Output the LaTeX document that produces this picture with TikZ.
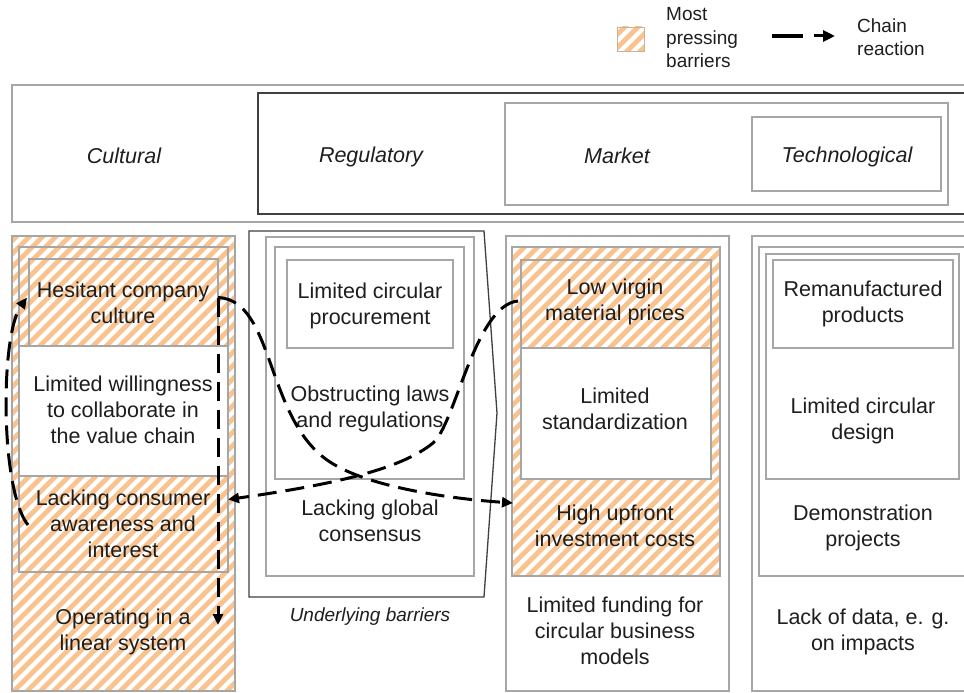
\documentclass[tikz,border=0pt]{standalone}
\usepackage{fontspec}
\setmainfont{Liberation Sans}
\usetikzlibrary{arrows.meta,calc}
\definecolor{hatch}{HTML}{F8C38E}
\definecolor{lgray}{HTML}{A6A6A6}
\definecolor{dgray}{HTML}{404040}
\definecolor{txtc}{HTML}{1E1E1E}
\newcommand\myhatch[4]{%
  \begin{scope}
    \clip (#1,#2) rectangle (#3,#4);
    \pgfmathtruncatemacro\hkA{(#1+#2)/13.3-1}
    \pgfmathtruncatemacro\hkB{(#3+#4)/13.3+1}
    \foreach \k in {\hkA,...,\hkB}{
      \draw[draw=hatch,line width=4.8pt] ({\k*13.3-#4-20},{#4+20}) -- ({\k*13.3-#2+20},{#2-20});
    }
  \end{scope}}
\begin{document}
\begin{tikzpicture}[x=1pt,y=-1pt,
  bx/.style={draw=lgray,line width=1.3pt,inner sep=0pt,outer sep=0pt,anchor=north west},
  dbx/.style={draw=dgray,line width=1.3pt},
  tx/.style={font=\fontsize{21.5}{26}\selectfont,align=center,text=txtc,inner sep=0pt},
  hd/.style={font=\fontsize{21.5}{26}\selectfont\itshape,text=txtc,inner sep=0pt},
  lg/.style={font=\fontsize{19}{23.5}\selectfont,align=left,text=txtc,inner sep=0pt,anchor=west},
  chain/.style={draw=black,line width=3pt,dash pattern=on 19pt off 9pt,-{Triangle[length=11pt,width=10pt]}}
]
\useasboundingbox (0,0) rectangle (964,693);
\fill[white] (0,0) rectangle (964,693);

% ---------- legend ----------
\myhatch{617}{27}{644}{51}
\node[draw=lgray!60!hatch,line width=1pt,minimum width=27pt,minimum height=24pt,inner sep=0pt,anchor=north west] (lgsq) at (617,27) {};
\node[lg] (lgtxt) at (666,38) {Most\\pressing\\barriers};
\coordinate (lga) at (772,36);
\coordinate (lgb) at (803,36);
\coordinate (lgc) at (814,36);
\coordinate (lgd) at (835,36);
\draw[line width=4pt] (lga) -- (lgb);
\draw[line width=3pt,-{Triangle[length=12pt,width=11pt]}] (lgc) -- (lgd);
\node[lg] (lgch) at (857,37) {Chain\\reaction};

% ---------- top category boxes ----------
\node[bx,line width=1.6pt,minimum width=963pt,minimum height=137pt] (top1) at (12,85) {};
\node[bx,draw=dgray,minimum width=717pt,minimum height=121pt] (top2) at (258,93) {};
\node[bx,minimum width=443pt,minimum height=102pt] (top3) at (505,103) {};
\node[bx,minimum width=189pt,minimum height=74pt] (top4) at (752,117) {};
\node[hd] (hcul) at (124,156) {Cultural};
\node[hd] (hreg) at (371,157) {Regulatory};
\node[hd] (hmar) at (617,156) {Market};
\node[hd] (htec) at (847,157) {Technological};

% ---------- cultural column ----------
\myhatch{12}{236}{235}{691}
\node[bx,minimum width=223pt,minimum height=455pt] (c1) at (12,236) {};
\node[bx,minimum width=209pt,minimum height=325pt] (c2) at (19,247) {};
\node[bx,fill=white,minimum width=209pt,minimum height=130pt] (c3) at (19,346) {};
\node[bx,minimum width=189pt,minimum height=87pt] (c4) at (29,259) {};
\node[tx] (hes) at (123,303) {Hesitant company\\culture};
\node[tx] (wil) at (123,410) {Limited willingness\\to collaborate in\\the value chain};
\node[tx] (con) at (123,524) {Lacking consumer\\awareness and\\interest};
\node[tx] (lin) at (123,632) {Operating in a\\linear system};

% ---------- regulatory column ----------
\draw[dbx] (249,231) -- (484,231) -- (497,413) -- (484,597) -- (249,597) -- cycle;
\node[bx,minimum width=208pt,minimum height=339pt] (r2) at (266,237) {};
\node[bx,minimum width=189pt,minimum height=232pt] (r3) at (275,247) {};
\node[bx,minimum width=166pt,minimum height=88pt] (r4) at (287,260) {};
\node[tx] (proc) at (370,306) {Limited circular\\procurement};
\node[tx] (laws) at (370,409) {Obstructing laws\\and regulations};
\node[tx] (glob) at (370,521) {Lacking global\\consensus};
\node[lg,anchor=center,font=\fontsize{19}{23.5}\selectfont\itshape] (und) at (370,617) {Underlying barriers};

% ---------- market column ----------
\node[bx,fill=white,minimum width=223pt,minimum height=455pt] (m1) at (506,236) {};
\myhatch{512}{247}{720}{576}
\node[bx,minimum width=208pt,minimum height=329pt] (m2) at (512,247) {};
\fill[white] (521,348) rectangle (711,479);
\node[bx,minimum width=190pt,minimum height=219pt] (m3) at (521,260) {};
\node[bx,minimum width=190pt,minimum height=88pt] (m4) at (521,260) {};
\node[tx] (low) at (615,302) {Low virgin\\material prices};
\node[tx] (std) at (615,409) {Limited\\standardization};
\node[tx] (high) at (615,526) {High upfront\\investment costs};
\node[tx] (fund) at (615,631) {Limited funding for\\circular business\\models};

% ---------- technological column ----------
\node[bx,minimum width=230pt,minimum height=455pt] (t1) at (752,236) {};
\node[bx,minimum width=220pt,minimum height=329pt] (t2) at (759,247) {};
\node[bx,minimum width=193pt,minimum height=225pt] (t3) at (766,254) {};
\node[bx,minimum width=180pt,minimum height=88pt] (t4) at (773,260) {};
\node[tx] (rem) at (863,304) {Remanufactured\\products};
\node[tx] (des) at (863,421) {Limited circular\\design};
\node[tx] (demo) at (863,528) {Demonstration\\projects};
\node[tx] (data) at (863,632) {Lack of data, e. g.\\on impacts};

% ---------- chain reactions ----------
\draw[chain] ($(c2.south west)+(9,-47)$) .. controls (0,490) and (0,335) .. ($(c4.west)+(-2,-5)$);
\draw[chain] ($(c4.east)+(0,-5)$) -- ($(c2.south east)+(-10,53)$);
\draw[chain] ($(c4.east)+(0,-5)$) .. controls (275,300) and (265,420) .. (330,462)
   .. controls (365,485) and (440,498) .. ($(m2.west)+(1,91.5)$);
\draw[chain] ($(m4.west)+(-3,-3)$) .. controls (475,305) and (455,425) .. (433,443)
   .. controls (400,470) and (330,485) .. ($(c2.east)+(0,90)$);
\end{tikzpicture}
\end{document}
